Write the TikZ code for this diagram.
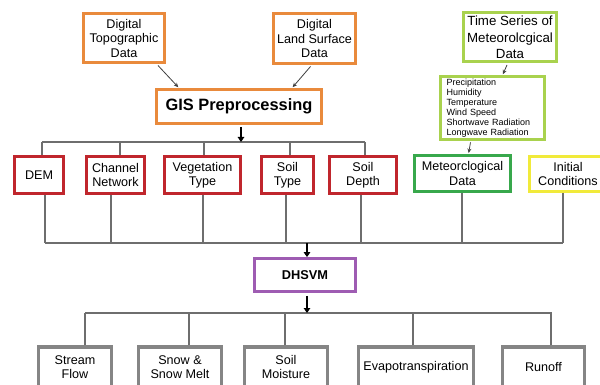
\documentclass[tikz,border=0pt]{standalone}
\usepackage{fontspec}
\setmainfont{Liberation Sans}
\usetikzlibrary{arrows.meta,calc}
\definecolor{orng}{HTML}{E98A3C}
\definecolor{redb}{HTML}{C0262D}
\definecolor{grnb}{HTML}{38A84C}
\definecolor{ygrn}{HTML}{A9D24E}
\definecolor{yelb}{HTML}{F1EA3A}
\definecolor{purb}{HTML}{9E5CB2}
\definecolor{grayb}{HTML}{858585}
\definecolor{linegray}{HTML}{6E6E6E}
\tikzset{
  box/.style={draw, fill=white, line width=3pt, align=center, inner sep=0pt,
    font=\fontsize{12.6}{14.5}\selectfont},
  obox/.style={box, draw=orng},
  rbox/.style={box, draw=redb, minimum height=37pt},
  gbox/.style={box, draw=grnb},
  ygbox/.style={box, draw=ygrn},
  ybox/.style={box, draw=yelb},
  pbox/.style={box, draw=purb},
  kbox/.style={box, draw=grayb, line width=3.5pt, minimum height=40pt},
  conn/.style={draw=linegray, line width=1.1pt},
  barrow/.style={draw=black, line width=2pt, -{Triangle[length=5pt,width=6.5pt]}},
  darrow/.style={draw=black!75, line width=0.8pt, -{Stealth[length=4.5pt,width=4pt]}, shorten >=1pt}
}
\begin{document}
\begin{tikzpicture}[x=1pt,y=-1pt]
\clip (0,0) rectangle (600,385);
\fill[white] (0,0) rectangle (600,385);

% top row
\node[obox, minimum width=81pt, minimum height=49pt] (topo) at (124,38) {Digital\\Topographic\\Data};
\node[obox, minimum width=82pt, minimum height=50pt] (land) at (314.5,38.5) {Digital\\Land Surface\\Data};
\node[obox, minimum width=165pt, minimum height=34pt, font=\bfseries\fontsize{16.4}{18}\selectfont] (gis) at (239,106.5) {GIS Preprocessing};
\node[ygbox, minimum width=93pt, minimum height=49pt, font=\fontsize{13.3}{16.5}\selectfont] (ts) at (510,37.5) {Time Series of\\Meteorolcgical\\Data};
\node[ygbox, line width=2.6pt, minimum width=104pt, minimum height=63pt, align=left, text width=92pt,
      font=\fontsize{9}{10}\selectfont] (list) at (492.5,108)
  {Precipitation\\Humidity\\Temperature\\Wind Speed\\Shortwave Radiation\\Longwave Radiation};

% input row
\node[rbox, minimum width=49pt] (dem) at (39,175) {DEM};
\node[rbox, minimum width=58pt] (chan) at (115.5,175) {Channel\\Network};
\node[rbox, minimum width=76pt] (veg) at (202.5,175) {Vegetation\\Type};
\node[rbox, minimum width=52pt] (stype) at (287.5,175) {Soil\\Type};
\node[rbox, minimum width=67pt] (sdepth) at (363,175) {Soil\\Depth};
\node[gbox, minimum width=96pt, minimum height=36pt] (met) at (462.5,173.5) {Meteorclogical\\Data};
\node[ybox, minimum width=77pt, minimum height=35pt] (init) at (568,174) {Initial\\Conditions};

% model
\node[pbox, line width=2.8pt, minimum width=101pt, minimum height=33pt, font=\bfseries\fontsize{12.8}{14}\selectfont] (dhsvm) at (305,275) {DHSVM};

% outputs
\node[kbox, minimum width=73pt] (stream) at (75,367) {Stream\\Flow};
\node[kbox, minimum width=83pt] (snow) at (180,367) {Snow \&\\Snow Melt};
\node[kbox, minimum width=83pt] (smoist) at (286,367) {Soil\\Moisture};
\node[kbox, minimum width=115pt] (evap) at (416,367) {Evapotranspiration};
\node[kbox, minimum width=82pt] (runoff) at (543.5,367) {Runoff};

% diagonal arrows
\draw[darrow] ($(topo.south east)+(-8,1.5)$) -- ($(gis.north)+(-60,0)$);
\draw[darrow] ($(land.south)+(-4,1.5)$) -- ($(gis.north)+(53,0)$);
\draw[darrow] ($(ts.south)+(-3,1.5)$) -- ($(list.north)+(10,0)$);
\draw[darrow] ($(list.south)+(-22,1.5)$) -- ($(met.north)+(6,0)$);

% top bus
\coordinate (tbL) at (42,142);
\coordinate (tbR) at (365,142);
\draw[conn] (tbL) -- (tbR);
\coordinate (sdem) at ($(dem.north)+(3,0)$);
\coordinate (schan) at ($(chan.north)+(4.5,0)$);
\coordinate (sveg) at ($(veg.north)+(1.5,0)$);
\coordinate (sstype) at ($(stype.north)+(2.5,0)$);
\coordinate (ssdepth) at ($(sdepth.north)+(2,0)$);
\foreach \s in {sdem,schan,sveg,sstype,ssdepth} \draw[conn] (\s) -- (\s |- tbL);
\coordinate (gisout) at ($(gis.south)+(2,2)$);
\draw[barrow] (gisout) -- (gisout |- tbL);

% bottom bus
\coordinate (bbL) at (45,243);
\coordinate (bbR) at (563,243);
\draw[conn] (bbL) -- (bbR);
\coordinate (bdem) at ($(dem.south)+(6,0)$);
\coordinate (bchan) at ($(chan.south)+(-4.5,0)$);
\coordinate (bveg) at ($(veg.south)+(0.5,0)$);
\coordinate (bstype) at ($(stype.south)+(-1.5,0)$);
\coordinate (bsdepth) at ($(sdepth.south)+(-2,0)$);
\coordinate (bmet) at ($(met.south)+(-0.5,0)$);
\coordinate (binit) at ($(init.south)+(-5,0)$);
\foreach \s in {bdem,bchan,bveg,bstype,bsdepth,bmet,binit} \draw[conn] (\s) -- (\s |- bbL);
\coordinate (dhin) at (307,243);
\draw[barrow] (dhin) -- (dhin |- dhsvm.north);

% output bus
\coordinate (obL) at (85,313);
\coordinate (obR) at (552,313);
\draw[conn] (obL) -- (obR);
\coordinate (dhout) at ($(dhsvm.south)+(2,3)$);
\draw[barrow] (dhout) -- (dhout |- obL);
\coordinate (ostream) at ($(stream.north)+(10,0)$);
\coordinate (osnow) at ($(snow.north)+(9,0)$);
\coordinate (osmoist) at ($(smoist.north)+(-1,0)$);
\coordinate (oevap) at ($(evap.north)+(-3,0)$);
\coordinate (orunoff) at ($(runoff.north)+(7.5,0)$);
\foreach \s in {ostream,osnow,osmoist,oevap,orunoff} \draw[conn] (\s) -- (\s |- obL);
\end{tikzpicture}
\end{document}
